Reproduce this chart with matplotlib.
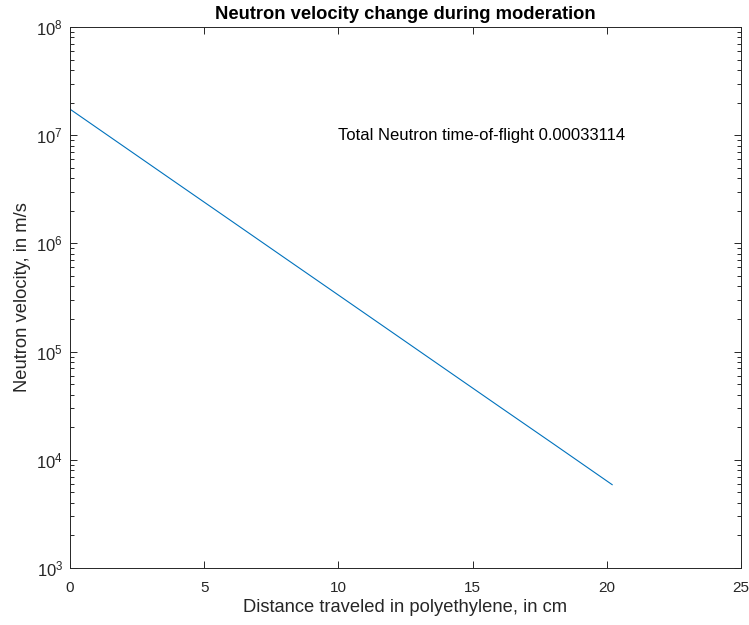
import matplotlib
matplotlib.use("Agg")
import matplotlib.pyplot as plt
from matplotlib.ticker import FixedLocator, NullFormatter

# ── Data ─────────────────────────────────────────────────────────────────────
distance_cm = [0, 2, 4, 6, 8, 10, 12, 14, 16, 18, 20.2]
velocity_ms = [1.74e7, 7.88e6, 3.57e6, 1.62e6, 7.34e5, 3.33e5,
               1.51e5, 6.84e4, 3.10e4, 1.41e4, 5.89e3]
tof_label = "Total Neutron time-of-flight 0.00033114"
x_ticks = [0, 5, 10, 15, 20, 25]
y_decades = [3, 4, 5, 6, 7, 8]

plt.rcParams['font.family'] = ['Liberation Sans', 'DejaVu Sans']
plt.rcParams['mathtext.default'] = 'regular'

axis_grey = '#262626'

fig = plt.figure(figsize=(7.49, 6.25), dpi=100)
ax = fig.add_axes([0.0935, 0.0912, 0.8958, 0.8656])

ax.plot(distance_cm, velocity_ms, color='#0072BD', linewidth=0.8)
ax.set_yscale('log')
ax.set_xlim(0, 25)
ax.set_ylim(10.0 ** y_decades[0], 10.0 ** y_decades[-1])
ax.set_xticks(x_ticks)
ax.set_yticks([10.0 ** d for d in y_decades])
minor = [m * 10.0 ** d for d in y_decades[:-1] for m in range(2, 10)]
ax.yaxis.set_minor_locator(FixedLocator(minor))
ax.yaxis.set_minor_formatter(NullFormatter())

# MATLAB-like box: inward ticks on all four sides
ax.tick_params(which='both', direction='in', top=True, right=True,
               colors=axis_grey, labelcolor=axis_grey, labelsize=11)
ax.tick_params(which='major', length=5, width=0.7)
ax.tick_params(which='minor', length=3, width=0.7)
ax.tick_params(axis='x', pad=9)
ax.tick_params(axis='y', pad=5, labelsize=12)
for s in ax.spines.values():
    s.set_color(axis_grey)
    s.set_linewidth(0.7)

ax.text(10, 1e7, tof_label, fontsize=12, va='center', ha='left', color='black')

ax.set_title("Neutron velocity change during moderation",
             fontsize=13.2, fontweight='bold', pad=6)
ax.set_xlabel("Distance traveled in polyethylene, in cm", fontsize=13.2,
              color=axis_grey, labelpad=3)
ax.set_ylabel("Neutron velocity, in m/s", fontsize=13.2, color=axis_grey,
              labelpad=4)

fig.savefig("out.png", dpi=100, facecolor='white')
